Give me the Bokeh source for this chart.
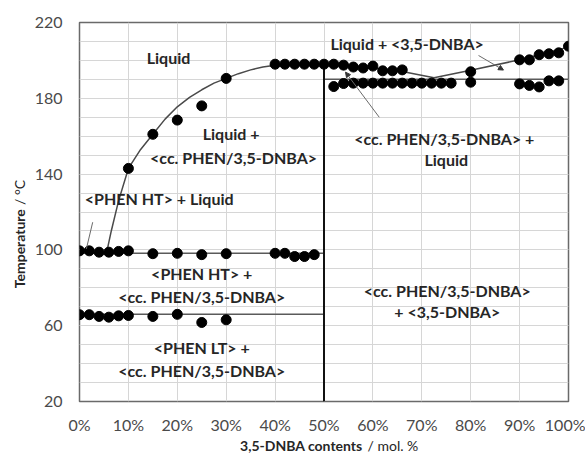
import math
from bokeh.plotting import figure
from bokeh.models import FixedTicker, PrintfTickFormatter, Label, Arrow, NormalHead, Range1d
from bokeh.core.properties import value
from bokeh.embed import file_html
from bokeh.resources import INLINE

# ---------------- data ----------------
# x: 3,5-DNBA content / mol. %, T: temperature / °C
liq_left_x = [10, 15, 20, 25, 30]
liq_left_T = [143, 161, 168.5, 176, 190.5]

top_x = [40, 42, 44, 46, 48, 50, 52, 54, 56, 58, 60, 62, 64, 66]
top_T = [198, 198, 198, 198, 198, 198, 198, 197.5, 196.5, 196, 197, 194.5, 194.5, 195]

liq_right_x = [80, 90, 92, 94, 96, 98, 100]
liq_right_T = [194, 200.3, 200.3, 203, 203.5, 204, 207.5]

sol_right_x = [52, 54, 56, 58, 60, 62, 64, 66, 68, 70, 72, 74, 76, 80, 90, 92, 94, 96, 98]
sol_right_T = [186.2, 187.8, 188, 188, 188, 188, 188, 188, 188, 188, 188, 188, 188, 188.5,
               187.6, 186.8, 186, 189.2, 189.2]

ht_x = [0, 2, 4, 6, 8, 10, 15, 20, 25, 30, 40, 42, 44, 46, 48]
ht_T = [99.5, 99.5, 98.8, 98.8, 99.2, 99.5, 98, 98.2, 97.5, 98, 98.2, 98.2, 96.5, 96.5, 97.5]

lt_x = [0, 2, 4, 6, 8, 10, 15, 20, 25, 30]
lt_T = [65.8, 65.8, 64.9, 64.5, 65.2, 65.4, 64.9, 66, 61.7, 63.1]

# drawn phase-boundary lines (vertices)
curve_left_x = [5.5, 6.5, 8, 10, 12.5, 15, 17.5, 20, 22.5, 25, 27.5, 30, 32.5, 35, 37.5, 40, 45, 50]
curve_left_T = [98, 110, 126, 143, 153, 161, 169, 175.5, 180.5, 184.5, 188, 190.5, 193, 195, 196.5, 197.5, 198, 198]
curve_right_x = [50, 56, 62, 66, 72.5, 80, 90, 100]
curve_right_T = [198, 196.8, 195.5, 194.2, 190.8, 194.8, 200.3, 207]

ht_line_x = [0, 50]
ht_line_T = [98.2, 98.2]
lt_line_x = [0, 50]
lt_line_T = [66, 66]
eut_line_x = [50, 100]
eut_line_T = [190, 190]
comp_line_x = [50, 50]
comp_line_T = [20, 198]

x_ticks = [0, 10, 20, 30, 40, 50, 60, 70, 80, 90, 100]
y_ticks = [20, 60, 100, 140, 180, 220]
y_minor = [20, 30, 40, 50, 60, 70, 80, 90, 100, 110, 120, 130, 140, 150, 160, 170, 180, 190, 200, 210, 220]

# ---------------- figure ----------------
FONT = "Lato"
TXT = "#262626"

p = figure(width=585, height=454, output_backend="svg", toolbar_location=None,
           x_range=Range1d(0, 100), y_range=Range1d(20, 220),
           min_border_left=79, min_border_right=17, min_border_top=22, min_border_bottom=53)
p.background_fill_color = "white"
p.border_fill_color = "white"
p.outline_line_color = "#6a6a6a"
p.outline_line_width = 1.5

p.xaxis.ticker = FixedTicker(ticks=x_ticks)
p.xaxis.formatter = PrintfTickFormatter(format="%d%%")
p.yaxis.ticker = FixedTicker(ticks=y_ticks, minor_ticks=y_minor)
p.xgrid.ticker = FixedTicker(ticks=x_ticks)
p.ygrid.ticker = FixedTicker(ticks=y_ticks, minor_ticks=y_minor)
for g in (p.xgrid, p.ygrid):
    g.grid_line_color = "#d6d6d6"
    g.grid_line_width = 1
p.ygrid.minor_grid_line_color = "#d6d6d6"
p.ygrid.minor_grid_line_width = 1

for ax in (p.xaxis, p.yaxis):
    ax.axis_line_color = None
    ax.major_tick_line_color = None
    ax.minor_tick_line_color = None
    ax.major_tick_out = 0
    ax.minor_tick_out = 0
    ax.major_label_text_font = FONT
    ax.major_label_text_font_size = "16px"
    ax.major_label_text_color = "#4a4a4a"
p.yaxis.major_label_standoff = 17
p.xaxis.major_label_standoff = 13

# lines
p.line(curve_left_x, curve_left_T, line_color="#4a4a4a", line_width=1.5)
p.line(curve_right_x, curve_right_T, line_color="#4a4a4a", line_width=1.5)
p.line(ht_line_x, ht_line_T, line_color="#5a5a5a", line_width=1.5)
p.line(lt_line_x, lt_line_T, line_color="#5a5a5a", line_width=1.5)
p.line(eut_line_x, eut_line_T, line_color="#5a5a5a", line_width=1.5)
p.line(comp_line_x, comp_line_T, line_color="#111111", line_width=2)

# points
for xs, ts in ((liq_left_x, liq_left_T), (top_x, top_T), (liq_right_x, liq_right_T),
               (sol_right_x, sol_right_T), (ht_x, ht_T), (lt_x, lt_T)):
    p.scatter(xs, ts, size=10, fill_color="#000000", line_color="#000000")

# pointer lines
def pointer(x0, y0, x1, y1, head=True):
    p.add_layout(Arrow(x_start=x0, y_start=y0, x_end=x1, y_end=y1,
                       line_color="#6a6a6a", line_width=1,
                       end=NormalHead(size=5, fill_color="#333333", line_color="#333333") if head else None))

pointer(2.7, 114.6, 1.4, 100.5, head=False)
pointer(61.3, 170, 54.4, 193.8)
pointer(81.6, 202.6, 86.7, 194.9)

# region labels
def lab(x, y, t, size="16px"):
    p.add_layout(Label(x=x, y=y, text=t, text_font=FONT, text_font_size=size,
                       text_font_style="bold", text_color=TXT,
                       text_align="center", text_baseline="middle"))

lab(18.2, 201.5, "Liquid")
lab(31.0, 161.4, "Liquid +")
lab(31.5, 148.8, "<cc. PHEN/3,5-DNBA>")
lab(16.3, 127.1, "<PHEN HT> + Liquid")
lab(67.0, 209.1, "Liquid + <3,5-DNBA>")
lab(74.6, 158.6, "<cc. PHEN/3,5-DNBA> +")
lab(75.0, 147.5, "Liquid")
lab(25.0, 87.4, "<PHEN HT> +")
lab(25.0, 75.4, "<cc. PHEN/3,5-DNBA>")
lab(25.0, 48.7, "<PHEN LT> +")
lab(25.0, 36.4, "<cc. PHEN/3,5-DNBA>")
lab(75.2, 78.6, "<cc. PHEN/3,5-DNBA>")
lab(75.2, 67.7, "+ <3,5-DNBA>")

# axis titles (mixed weights) as unclipped overlay text glyphs
def title_text(x, y, t, bold, align, angle=0.0):
    p.text(x=[x], y=[y], text=[t], text_font=value(FONT), text_font_size="14px",
           text_font_style="bold" if bold else "normal", text_color=TXT,
           text_align=align, text_baseline="middle", angle=angle, level="overlay")

title_text(57.9, -3.2, "3,5-DNBA contents", True, "right")
title_text(58.9, -3.2, "/ mol. %", False, "left")
title_text(-12.3, 121.5, "Temperature", True, "right", math.pi / 2)
title_text(-12.3, 123.7, "/ °C", False, "left", math.pi / 2)

open("out.html", "w").write(file_html(p, INLINE))
